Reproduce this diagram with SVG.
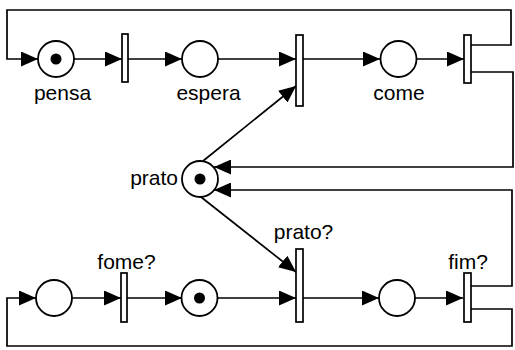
<svg xmlns="http://www.w3.org/2000/svg" width="515" height="350" viewBox="0 0 515 350">
<defs>
<marker id="arr" markerUnits="userSpaceOnUse" markerWidth="17" markerHeight="15" refX="17" refY="7.5" orient="auto">
<path d="M0,0 L17,7.5 L0,15 z" fill="#000"/>
</marker>
<style>
.p{fill:#fff;stroke:#000;stroke-width:1.8}
.t{fill:#fff;stroke:#000;stroke-width:1.7}
.k{fill:#000}
.e{fill:none;stroke:#000;stroke-width:1.7;marker-end:url(#arr)}
.l{font-family:"Liberation Sans",Arial,sans-serif;font-size:21px;fill:#000}
</style>
</defs>
<rect width="515" height="350" fill="#fff"/>
<g id="connectors">
<path class="e" d="M470,45 H511 V10 H7 V59 H38"/>
<path class="e" d="M74,59 H122"/>
<path class="e" d="M128,59 H182"/>
<path class="e" d="M218,59 H296"/>
<path class="e" d="M303,59 H380"/>
<path class="e" d="M417,59 H464"/>
<path class="e" d="M471,72 H513 V167 H214"/>
<path class="e" d="M471,286 H512 V190 H214"/>
<path class="e" d="M203,161 L296,86"/>
<path class="e" d="M201,197 L296,272"/>
<path class="e" d="M471,309 H512 V346 H7 V298 H36"/>
<path class="e" d="M72,298 H121"/>
<path class="e" d="M127,298 H182"/>
<path class="e" d="M217,298 H296"/>
<path class="e" d="M303,298 H379"/>
<path class="e" d="M415,298 H463"/>
</g>
<g id="pensa"><circle class="p" cx="56" cy="59" r="18"/><circle class="k" cx="56" cy="59" r="5.5"/><text class="l" x="62.5" y="100" text-anchor="middle">pensa</text></g>
<g id="t1"><rect class="t" x="122" y="34" width="6" height="48"/></g>
<g id="espera"><circle class="p" cx="200" cy="59" r="18"/><text class="l" x="208.5" y="100" text-anchor="middle">espera</text></g>
<g id="t2"><rect class="t" x="296" y="35" width="7" height="71"/></g>
<g id="come"><circle class="p" cx="398.5" cy="59" r="18"/><text class="l" x="399" y="100" text-anchor="middle">come</text></g>
<g id="t3"><rect class="t" x="464" y="35" width="7" height="48"/></g>
<g id="prato"><circle class="p" cx="200" cy="179" r="18"/><circle class="k" cx="200" cy="179" r="5.5"/><text class="l" x="178" y="185" text-anchor="end">prato</text></g>
<g id="p4"><circle class="p" cx="54" cy="298" r="18"/></g>
<g id="fome"><rect class="t" x="121" y="273" width="6" height="49"/><text class="l" x="126.5" y="269" text-anchor="middle">fome?</text></g>
<g id="p5"><circle class="p" cx="199.5" cy="298" r="18"/><circle class="k" cx="199.5" cy="298" r="5.5"/></g>
<g id="pratoq"><rect class="t" x="296" y="249" width="7" height="73"/><text class="l" x="303.5" y="239" text-anchor="middle">prato?</text></g>
<g id="p6"><circle class="p" cx="397" cy="298" r="18"/></g>
<g id="fim"><rect class="t" x="464" y="273" width="7" height="49"/><text class="l" x="468" y="269" text-anchor="middle">fim?</text></g>
</svg>
